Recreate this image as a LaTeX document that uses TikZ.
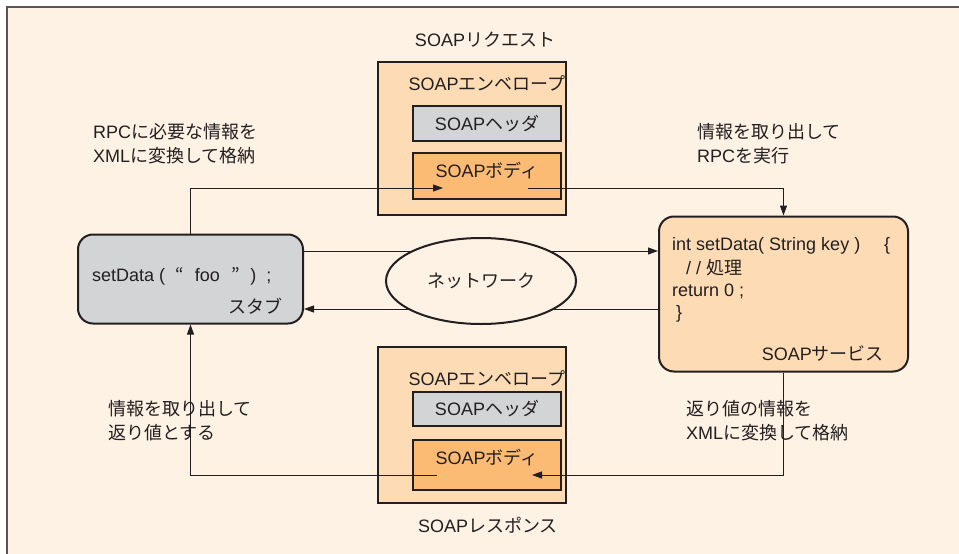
\documentclass[tikz,border=0pt]{standalone}
\usepackage{fontspec}
\setmainfont{Liberation Sans}
\newfontfamily\jpf{Noto Sans CJK JP}
\newcommand\jp[1]{{\jpf #1}}
\usetikzlibrary{arrows.meta,shapes.geometric}

\definecolor{cream}{HTML}{FEF2E4}
\definecolor{peach}{HTML}{FDDCB5}
\definecolor{amber}{HTML}{FBBB74}
\definecolor{silver}{HTML}{D3D4D6}
\definecolor{ink}{HTML}{231F20}
\definecolor{frame}{HTML}{5A5656}

\tikzset{
  txt/.style={font=\fontsize{18}{24}\selectfont, text=ink, inner sep=0pt},
  envbox/.style={draw=ink, line width=2pt, fill=peach},
  hdrbox/.style={draw=ink, line width=2pt, fill=silver},
  bodybox/.style={draw=ink, line width=2pt, fill=amber},
  conn/.style={draw=ink, line width=1pt},
  tip/.style={-{Triangle[length=10pt,width=7pt]}},
}

\begin{document}
\begin{tikzpicture}[x=1pt, y=-1pt]
  % page and framed background panel
  \useasboundingbox (0,0) rectangle (959,554);
  \fill[white] (0,0) rectangle (959,554);
  \fill[cream] (7,7) rectangle (959,554);
  \draw[frame, line width=2pt] (7,554) -- (7,7) -- (959,7);

  % request envelope
  \node[txt] (reqT) at (485,40) {SOAP\jp{リクエスト}};
  \node[envbox, minimum width=188pt, minimum height=153pt] (envT) at (472,138.5) {};
  \node[txt] (envTl) at (487,83) {SOAP\jp{エンベロープ}};
  \node[hdrbox, minimum width=148pt, minimum height=35pt] (hdrT) at (487,123.5) {};
  \node[txt] at (hdrT) {SOAP\jp{ヘッダ}};
  \node[bodybox, minimum width=148pt, minimum height=46pt] (bodyT) at (487,176) {};
  \node[txt] at (487,171) {SOAP\jp{ボディ}};

  % response envelope
  \node[envbox, minimum width=188pt, minimum height=156pt] (envB) at (472,425) {};
  \node[txt] (envBl) at (487,378) {SOAP\jp{エンベロープ}};
  \node[hdrbox, minimum width=148pt, minimum height=34pt] (hdrB) at (487,409) {};
  \node[txt] at (hdrB) {SOAP\jp{ヘッダ}};
  \node[bodybox, minimum width=148pt, minimum height=50pt] (bodyB) at (487,465) {};
  \node[txt] at (487,458) {SOAP\jp{ボディ}};
  \node[txt] (resT) at (488,525) {SOAP\jp{レスポンス}};

  % client stub
  \node[draw=ink, line width=2pt, fill=silver, rounded corners=15pt,
        minimum width=225pt, minimum height=89pt] (stub) at (190.5,279) {};
  \node[txt, anchor=west] at (92,276)
    {setData (\hspace{10pt}\jp{“}\hspace{11pt}foo\hspace{12pt}\jp{”}\hspace{10pt})\hspace{10pt};};
  \node[txt, anchor=east] at (283,306) {\jp{スタブ}};

  % service
  \node[draw=ink, line width=2pt, fill=peach, rounded corners=15pt,
        minimum width=249pt, minimum height=155pt] (svc) at (783.5,294) {};
  \node[txt, anchor=west] at (672,246) {int setData( String key )\hspace{24pt}\{};
  \node[txt, anchor=west] at (686,268) {/ / \jp{処理}};
  \node[txt, anchor=west] at (672,291) {return 0 ;};
  \node[txt, anchor=west] at (676,314) {\}};
  \node[txt, anchor=east] at (884,353) {SOAP\jp{サービス}};

  % free ends of the connectors inside the message bodies
  \coordinate (inT) at (443,188);
  \coordinate (outT) at (528,188);
  \coordinate (inB) at (532,475);
  \coordinate (outB) at (437,475);

  % request path
  \draw[conn, tip] (stub.north) |- (inT);
  \draw[conn, tip] (outT) -| (svc.north);
  % response path
  \draw[conn, tip] (svc.south) |- (inB);
  \draw[conn, tip] (outB) -| (stub.south);
  % traffic over the network
  \draw[conn, tip] (stub.east |- 0,251) -- (svc.west |- 0,251);
  \draw[conn, tip] (svc.west |- 0,309) -- (stub.east |- 0,309);

  % network
  \node[draw=ink, line width=2pt, fill=cream, ellipse,
        minimum width=190pt, minimum height=86pt] (net) at (481,281) {};
  \node[txt] at (net) {\jp{ネットワーク}};

  % step descriptions
  \node[txt, anchor=north west, align=left] at (93,123)
    {RPC\jp{に必要な情報を}\\XML\jp{に変換して格納}};
  \node[txt, anchor=north west, align=left] at (697,123)
    {\jp{情報を取り出して}\\RPC\jp{を実行}};
  \node[txt, anchor=north west, align=left] at (108,400)
    {\jp{情報を取り出して}\\\jp{返り値とする}};
  \node[txt, anchor=north west, align=left] at (686,400)
    {\jp{返り値の情報を}\\XML\jp{に変換して格納}};
\end{tikzpicture}
\end{document}
